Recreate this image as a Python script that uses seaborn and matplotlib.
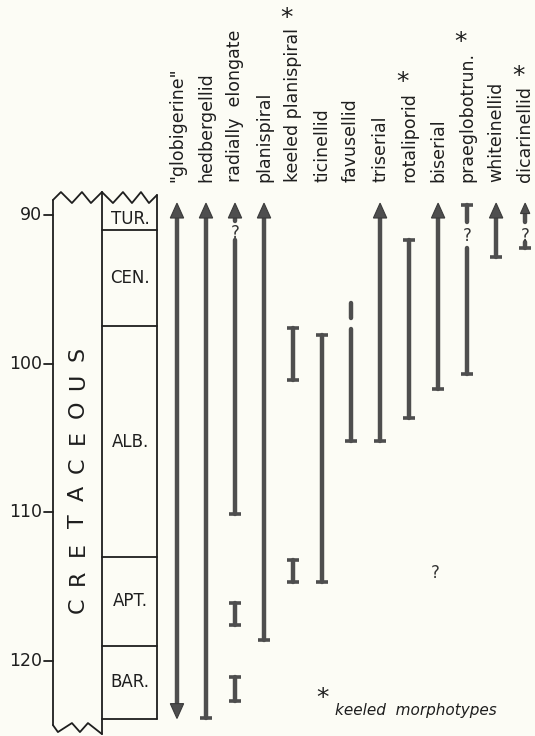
import numpy as np
import pandas as pd
import matplotlib
matplotlib.use("Agg")
import matplotlib.pyplot as plt
import seaborn as sns

# ---------------- data ----------------
categories = ['"globigerine"', 'hedbergellid', 'radially  elongate', 'planispiral',
              'keeled planispiral', 'ticinellid', 'favusellid', 'triserial',
              'rotaliporid', 'biserial', 'praeglobotrun.', 'whiteinellid', 'dicarinellid']
keeled = [False, False, False, False, True, False, False, False, True, False, True, False, True]

# stratigraphic range segments (age in Ma)
seg_col = [0, 1, 2, 2, 2, 2, 3, 4, 4, 5, 6, 6, 7, 8, 9, 10, 10, 11, 12, 12]
seg_top = [89.2, 89.2, 89.2, 91.7, 116.1, 121.1, 89.2, 97.6, 113.2, 98.1,
           95.9, 97.7, 89.2, 91.7, 89.2, 89.3, 92.2, 89.2, 89.2, 91.8]
seg_base = [123.9, 123.9, 90.4, 110.1, 117.6, 122.7, 118.6, 101.1, 114.7, 114.7,
            96.9, 105.2, 105.2, 103.7, 101.7, 90.5, 100.7, 92.8, 90.5, 92.2]
seg_top_end = ['arrow', 'arrow', 'arrow', 'none', 'bar', 'bar', 'arrow', 'bar', 'bar', 'bar',
               'none', 'none', 'arrow', 'bar', 'arrow', 'bar', 'none', 'arrow', 'arrow', 'none']
seg_base_end = ['arrow', 'bar', 'none', 'bar', 'bar', 'bar', 'bar', 'bar', 'bar', 'bar',
                'none', 'bar', 'bar', 'bar', 'bar', 'none', 'bar', 'bar', 'none', 'bar']

query_col = [2, 10, 12, 9]
query_age = [91.2, 91.4, 91.4, 114.1]

stage_names = ['TUR.', 'CEN.', 'ALB.', 'APT.', 'BAR.']
stage_top = [89.5, 91.0, 97.5, 113.0, 119.0]
stage_base = [91.0, 97.5, 113.0, 119.0, 123.94]

age_ticks = [90, 100, 110, 120]
period_name = "CRETACEOUS"

# ---------------- style ----------------
sns.set_theme(style="white")
plt.rcParams['font.family'] = ['DejaVu Sans']
BG = '#fcfcf5'
LINE = '#4e4e4e'
INK = '#1e1e1e'

fig = plt.figure(figsize=(5.35, 7.36), dpi=100, facecolor=BG)
ax = fig.add_axes([0, 0, 1, 1])
ax.set_facecolor(BG)
ax.set_xlim(-6.10, 12.34)
ax.set_ylim(125.08, 75.52)
ax.axis('off')

# layout of the stratigraphic columns (in column units)
xL, xM, xR = -4.28, -2.59, -0.69

# ---------------- range shafts ----------------
HEAD_H = 1.0
HEAD_W = 0.46
rows = []
for k, (c, t, b, te, be) in enumerate(zip(seg_col, seg_top, seg_base, seg_top_end, seg_base_end)):
    small = (c == 12)
    hh = HEAD_H * (0.7 if small else 1.0)
    t2 = t + hh * 0.9 if te == 'arrow' else t
    b2 = b - hh * 0.9 if be == 'arrow' else b
    rows.append(dict(seg=k, col=c, age=t2))
    rows.append(dict(seg=k, col=c, age=b2))
df = pd.DataFrame(rows)
sns.lineplot(data=df, x='col', y='age', units='seg', estimator=None, sort=False,
             color=LINE, lw=3.2, ax=ax, legend=False, solid_capstyle='round')

# end caps and arrowheads
for c, t, b, te, be in zip(seg_col, seg_top, seg_base, seg_top_end, seg_base_end):
    small = (c == 12)
    hh = HEAD_H * (0.7 if small else 1.0)
    hw = HEAD_W * (0.7 if small else 1.0)
    for age, end, d in ((t, te, 1), (b, be, -1)):
        if end == 'bar':
            ax.hlines(age, c - 0.2, c + 0.2, color=LINE, lw=2.6)
        elif end == 'arrow':
            ax.fill([c - hw / 2, c, c + hw / 2], [age + d * hh, age, age + d * hh],
                    color=LINE, lw=0.8, ec='#3a3a3a', zorder=3)

for c, a in zip(query_col, query_age):
    dx = -0.1 if a > 100 else 0
    ax.text(c + dx, a, '?', ha='center', va='center', fontsize=12, color='#333333')

# ---------------- labels ----------------
texts = []
for i, lab in enumerate(categories):
    t = ax.text(i, 87.75, lab, rotation=90, ha='center', va='bottom',
                fontsize=12.5, color=INK)
    texts.append(t)
fig.canvas.draw()
inv = ax.transData.inverted()
for t, k in zip(texts, keeled):
    if k:
        bb = t.get_window_extent()
        xc = (bb.x0 + bb.x1) / 2
        x, y = inv.transform((xc - 7, bb.y1 + 10))
        ax.text(x, y, '*', ha='center', va='center', fontsize=18, color=INK)

# ---------------- stratigraphic columns ----------------
def px_x(p):
    return (p - 177) / 29.0


def px_y(p):
    return 90 + (p - 215) / 14.85


# zigzag (scan-like broken top / bottom), pixel-layout converted to axes units
zx1 = [px_x(p) for p in (53, 61, 72, 82, 91, 102)]
zy1 = [px_y(p) for p in (200, 192, 203, 192, 203, 192)]
zx2 = [px_x(p) for p in (102, 113, 123, 132, 141, 149, 157)]
zy2 = [px_y(p) for p in (192, 203, 192, 203, 192, 203, 195)]
zx3 = [px_x(p) for p in (53, 58, 72, 80, 88, 102)]
zy3 = [px_y(p) for p in (725, 732, 723, 732, 723, 734)]

ax.plot([xL, xL], [zy1[0], zy3[0]], color=INK, lw=1.3)
ax.plot([xM, xM], [zy1[-1], zy3[-1]], color=INK, lw=1.3)
ax.plot([xR, xR], [zy2[-1], stage_base[-1]], color=INK, lw=1.3)
ax.plot([xM, xR], [stage_base[-1]] * 2, color=INK, lw=1.3)
for b in stage_base[:-1]:
    ax.plot([xM, xR], [b, b], color=INK, lw=1.3)
ax.plot(zx1, zy1, color=INK, lw=1.3)
ax.plot(zx2, zy2, color=INK, lw=1.3)
ax.plot(zx3, zy3, color=INK, lw=1.3)

for name, t0, b0 in zip(stage_names, stage_top, stage_base):
    ax.text((xM + xR) / 2 + 0.03, (t0 + b0) / 2, name, ha='center', va='center',
            fontsize=12, color=INK)

letters = list(period_name)
centers = np.linspace(116.26, 99.33, len(letters))
for ch, yc in zip(letters, centers):
    ax.text((xL + xM) / 2 + 0.02, yc, ch, rotation=90, ha='center', va='center',
            fontsize=16, color=INK)

for a in age_ticks:
    ax.plot([xL - 0.3, xL], [a, a], color=INK, lw=1.3)
    ax.text(xL - 0.38, a, str(a), ha='right', va='center', fontsize=12.5, color=INK)

# footnote
ax.text(5.0, 122.55, '*', ha='center', va='center', fontsize=18, color=INK)
ax.text(5.45, 123.35, 'keeled  morphotypes', ha='left', va='center', fontsize=11,
        style='italic', color=INK)

fig.savefig('out.png', dpi=100, facecolor=BG)
